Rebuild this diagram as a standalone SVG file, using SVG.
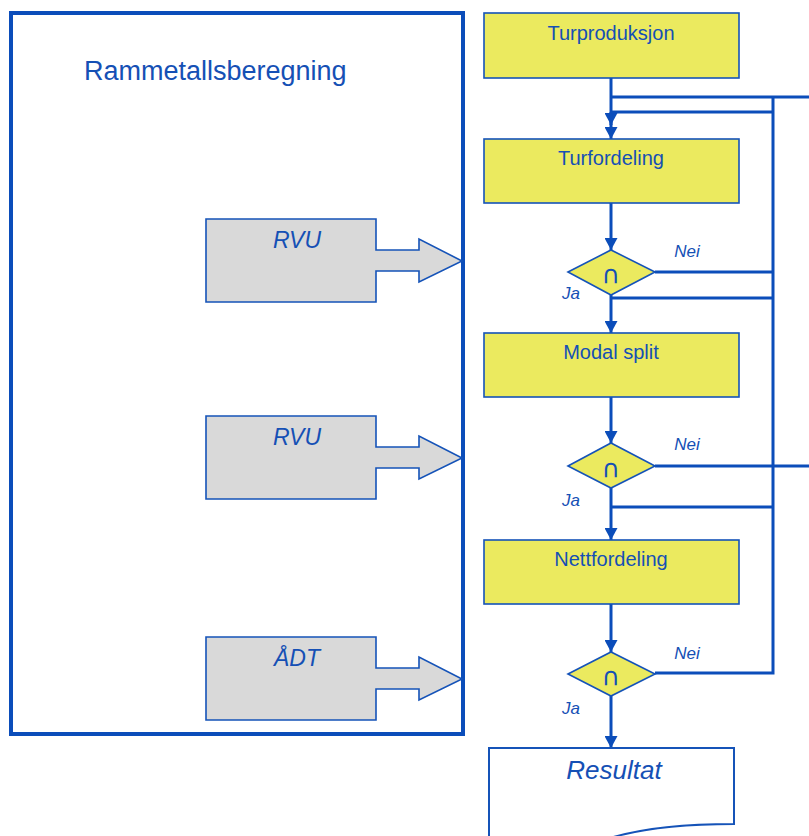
<svg xmlns="http://www.w3.org/2000/svg" width="809" height="836" viewBox="0 0 809 836">
  <style>
    .frame { fill: #ffffff; stroke: #0b4dba; stroke-width: 4; }
    .step { fill: #ebea5f; stroke: #1553b8; stroke-width: 1.6; }
    .input { fill: #d9d9d9; stroke: #1553b8; stroke-width: 1.6; }
    .doc { fill: #ffffff; stroke: #1553b8; stroke-width: 2; }
    .wire { fill: none; stroke: #0b4dba; stroke-width: 3; }
    .lbl { font-family: "Liberation Sans", Arial, sans-serif; fill: #1550b5; text-anchor: middle; }
    .it { font-style: italic; }
    .sym { font-family: "DejaVu Sans", sans-serif; font-size: 25px; fill: #1550b5; text-anchor: middle; }
  </style>
  <defs>
    <marker id="head" markerUnits="userSpaceOnUse" markerWidth="13" markerHeight="13" refX="12" refY="6.5" orient="auto">
      <path d="M0,0 L12,6.5 L0,13 z" fill="#0b4dba"/>
    </marker>
  </defs>

  <!-- frame for the base-year trip totals -->
  <g id="rammetall">
    <rect class="frame" x="11" y="13" width="452" height="721"/>
    <text class="lbl" x="84" y="80" font-size="27" style="text-anchor:start">Rammetallsberegning</text>
  </g>

  <!-- data inputs feeding the frame -->
  <g id="input-rvu-1">
    <path class="input" d="M206,219 H376 V250 H419 V239 L462,261 L419,282 V271 H376 V302 H206 Z"/>
    <text class="lbl it" x="297" y="248" font-size="23">RVU</text>
  </g>
  <g id="input-rvu-2">
    <path class="input" d="M206,416 H376 V447 H419 V436 L462,458 L419,479 V468 H376 V499 H206 Z"/>
    <text class="lbl it" x="297" y="445" font-size="23">RVU</text>
  </g>
  <g id="input-adt">
    <path class="input" d="M206,637 H376 V668 H419 V657 L462,679 L419,700 V689 H376 V720 H206 Z"/>
    <text class="lbl it" x="297" y="666" font-size="23">ÅDT</text>
  </g>

  <!-- connectors -->
  <g id="connectors">
    <path class="wire" d="M611,78 V125" marker-end="url(#head)"/>
    <path class="wire" d="M611,112 V139" marker-end="url(#head)"/>
    <path class="wire" d="M611,97 H809"/>
    <path class="wire" d="M611,112 H773"/>
    <path class="wire" d="M773,97 V673 H655"/>
    <path class="wire" d="M611,203 V250" marker-end="url(#head)"/>
    <path class="wire" d="M655,272 H773"/>
    <path class="wire" d="M611,295 V333" marker-end="url(#head)"/>
    <path class="wire" d="M611,298 H773"/>
    <path class="wire" d="M611,397 V443" marker-end="url(#head)"/>
    <path class="wire" d="M655,466 H809"/>
    <path class="wire" d="M611,488 V540" marker-end="url(#head)"/>
    <path class="wire" d="M611,507 H773"/>
    <path class="wire" d="M611,604 V652" marker-end="url(#head)"/>
    <path class="wire" d="M611,696 V748" marker-end="url(#head)"/>
  </g>

  <!-- model steps -->
  <g id="turproduksjon">
    <rect class="step" x="484" y="13" width="255" height="65"/>
    <text class="lbl" x="611" y="40" font-size="20">Turproduksjon</text>
  </g>
  <g id="turfordeling">
    <rect class="step" x="484" y="139" width="255" height="64"/>
    <text class="lbl" x="611" y="165" font-size="20">Turfordeling</text>
  </g>
  <g id="modal-split">
    <rect class="step" x="484" y="333" width="255" height="64"/>
    <text class="lbl" x="611" y="359" font-size="20">Modal split</text>
  </g>
  <g id="nettfordeling">
    <rect class="step" x="484" y="540" width="255" height="64"/>
    <text class="lbl" x="611" y="566" font-size="20">Nettfordeling</text>
  </g>

  <!-- convergence checks -->
  <g id="check-1">
    <path class="step" d="M568,272 L611,250 L655,272 L611,295 Z"/>
    <text class="sym" x="611" y="283">∩</text>
    <text class="lbl it" x="687" y="257" font-size="17">Nei</text>
    <text class="lbl it" x="571" y="299" font-size="17">Ja</text>
  </g>
  <g id="check-2">
    <path class="step" d="M568,466 L611,443 L655,466 L611,488 Z"/>
    <text class="sym" x="611" y="477">∩</text>
    <text class="lbl it" x="687" y="450" font-size="17">Nei</text>
    <text class="lbl it" x="571" y="506" font-size="17">Ja</text>
  </g>
  <g id="check-3">
    <path class="step" d="M568,674 L611,652 L655,674 L611,696 Z"/>
    <text class="sym" x="611" y="685">∩</text>
    <text class="lbl it" x="687" y="659" font-size="17">Nei</text>
    <text class="lbl it" x="571" y="714" font-size="17">Ja</text>
  </g>

  <!-- output document -->
  <g id="resultat">
    <path class="doc" d="M489,850 V748 H734 V824 C680,824 640,829 610,838 C580,846 540,850 489,850 Z"/>
    <text class="lbl it" x="614" y="779" font-size="26">Resultat</text>
  </g>
</svg>
